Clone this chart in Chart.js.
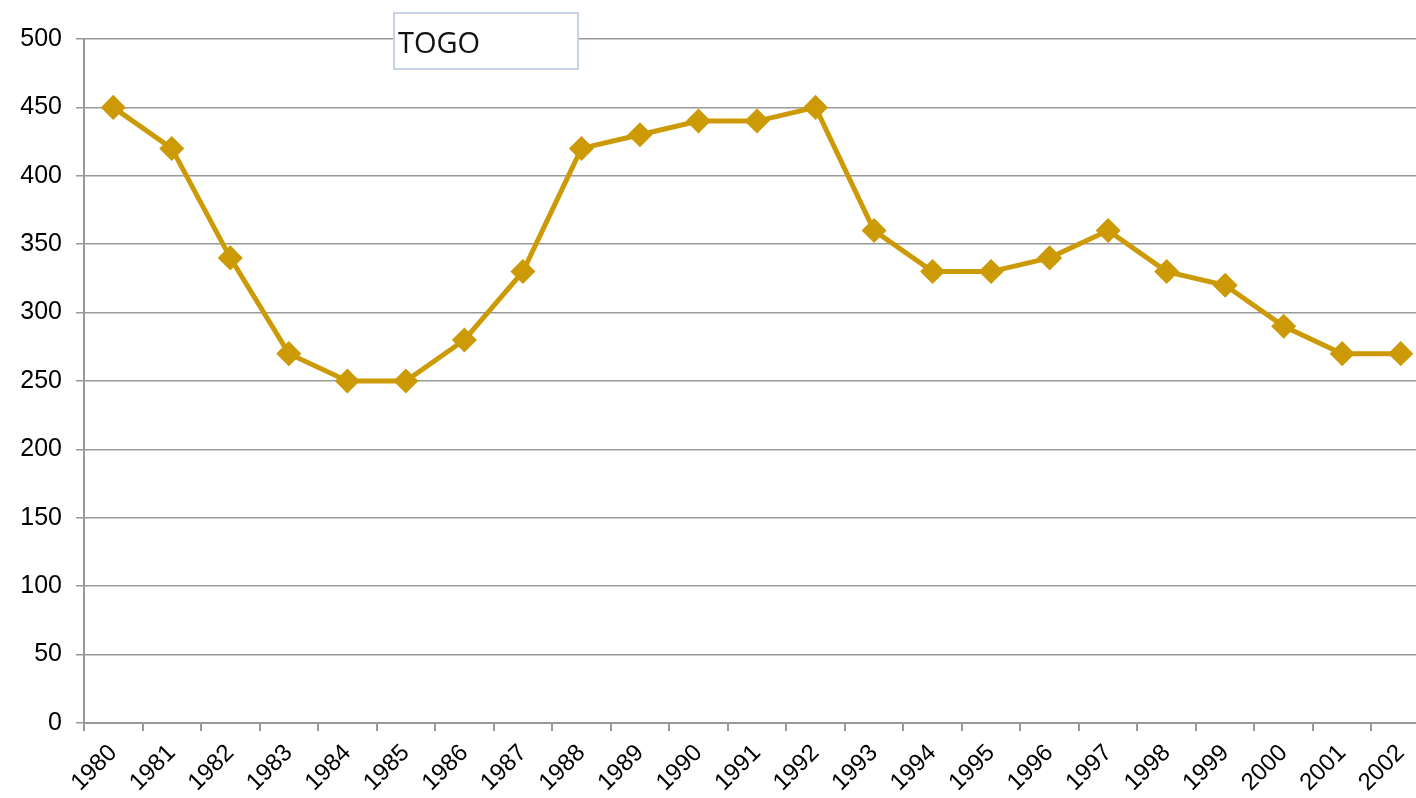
<!DOCTYPE html>
<html>
<head>
<meta charset="utf-8">
<script src="https://cdn.jsdelivr.net/npm/chart.js@4/dist/chart.umd.min.js"></script>
<style>
  html, body { margin: 0; padding: 0; background: #fff; overflow: hidden; }
  #wrap { width: 1444px; height: 798px; }
  #togo { width: 1444px !important; height: 798px !important; max-width: none !important; }
</style>
</head>
<body>
<div id="wrap"><canvas id="togo" width="1444" height="798"></canvas></div>
<script>
const years = ['1980','1981','1982','1983','1984','1985','1986','1987','1988','1989','1990','1991',
               '1992','1993','1994','1995','1996','1997','1998','1999','2000','2001','2002'];
const values = [450, 420, 340, 270, 250, 250, 280, 330, 420, 430, 440, 440,
                450, 360, 330, 330, 340, 360, 330, 320, 290, 270, 270];
const title = 'TOGO';

// boxed title, like the excel text box
const titleBox = {
    id: 'titleBox',
    afterDraw(chart) {
        const ctx = chart.ctx;
        ctx.save();
        ctx.fillStyle = '#fff';
        ctx.fillRect(394, 13, 184, 56);
        ctx.strokeStyle = '#c9d3e6';
        ctx.lineWidth = 2;
        ctx.strokeRect(394, 13, 184, 56);
        ctx.fillStyle = '#111';
        ctx.font = '29px "Open Sans", sans-serif';
        ctx.textBaseline = 'middle';
        ctx.fillText(title, 398, 45);
        ctx.restore();
    }
};

new Chart(
    document.getElementById('togo'),
    {
        type: 'line',
        data: {
            labels: years,
            datasets: [
                {
                    label: title,
                    data: values,
                    borderColor: '#cc9a06',
                    backgroundColor: '#cc9a06',
                    borderWidth: 5,
                    pointStyle: 'rectRot',
                    pointRadius: 9,
                    pointHoverRadius: 9,
                    tension: 0
                }
            ]
        },
        plugins: [titleBox],
        options: {
            responsive: false,
            animation: false,
            layout: { padding: { top: 39, right: 3, left: 0, bottom: 0 } },
            plugins: {
                legend: { display: false },
                tooltip: { enabled: false }
            },
            scales: {
                x: {
                    offset: true,
                    afterFit(scale) { scale.height = 75; },
                    grid: {
                        offset: true,
                        drawOnChartArea: false,
                        drawTicks: true,
                        tickLength: 8,
                        color: '#999',
                        lineWidth: 2
                    },
                    border: { color: '#999', width: 2 },
                    ticks: {
                        color: '#000',
                        font: { family: 'Liberation Sans, Arial', size: 24 },
                        maxRotation: 45,
                        minRotation: 45,
                        autoSkip: false,
                        padding: 8
                    }
                },
                y: {
                    min: 0,
                    max: 500,
                    afterFit(scale) { scale.width = 84; },
                    grid: {
                        color: '#999',
                        lineWidth: 1.5,
                        tickLength: 8
                    },
                    border: { color: '#999', width: 2 },
                    ticks: {
                        stepSize: 50,
                        color: '#000',
                        font: { family: 'Liberation Sans, Arial', size: 25 },
                        padding: 14
                    }
                }
            }
        }
    }
);
</script>
</body>
</html>
